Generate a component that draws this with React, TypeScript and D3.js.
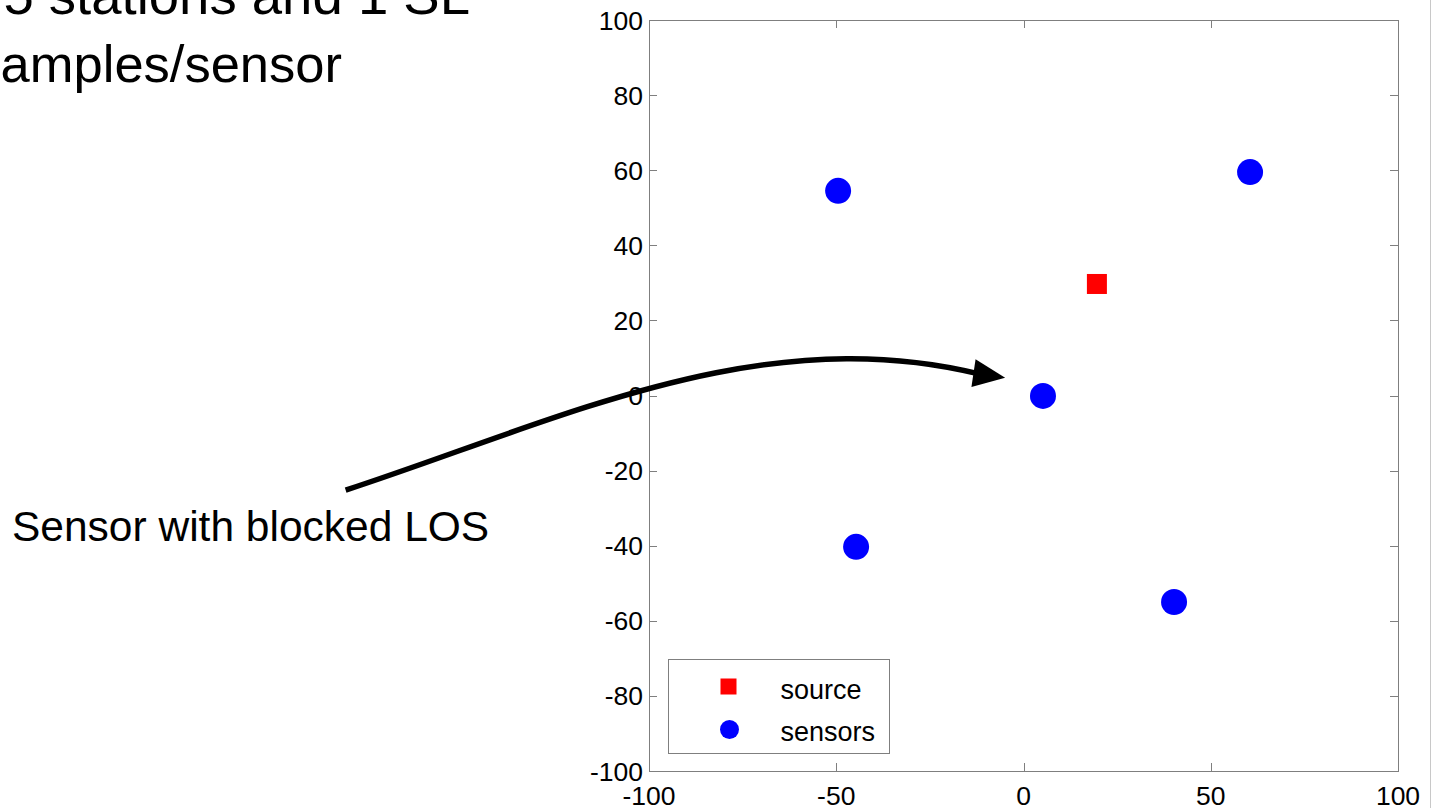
import React, { useEffect, useRef } from 'react';
import * as d3 from 'd3';

// sensor stations (x, y)
const sensorX = [-49.5, 60.5, 5.2, -44.7, 40.2];
const sensorY = [54.5, 59.5, -0.1, -40.3, -55];

// source location
const sourceX = [19.6];
const sourceY = [29.7];

const xTicks = [-100, -50, 0, 50, 100];
const yTicks = [-100, -80, -60, -40, -20, 0, 20, 40, 60, 80, 100];

const legendLabels = ['source', 'sensors'];

// annotation arrow, in data units (extends left of the axes)
const arrowPath: [number, number][] = [[-181, -25.2], [-123.8, -6.5], [-70.4, 20.1], [-11.6, 5.7]];
const arrowTip: [number, number] = [-4.9, 4.7];

const FONT = 'Liberation Sans, Arial, Helvetica, sans-serif';

const App: React.FC = () => {
    const chartRef = useRef<SVGSVGElement | null>(null);

    useEffect(() => {
        if (!chartRef.current) return;
        const width = 1432;
        const height = 808;
        const plot = { left: 649, right: 1398, top: 20, bottom: 771 };

        const svg = d3.select(chartRef.current)
            .attr('width', width)
            .attr('height', height);
        svg.selectAll('*').remove();

        const x = d3.scaleLinear().domain([-100, 100]).range([plot.left, plot.right]);
        const y = d3.scaleLinear().domain([-100, 100]).range([plot.bottom, plot.top]);

        const axisColor = '#7f7f7f';
        const tickLen = 8;

        // slide text, cut at the top-left
        svg.append('text')
            .attr('x', 470).attr('y', 14)
            .attr('text-anchor', 'end')
            .style('font-family', FONT).style('font-size', '54.5px')
            .text('5 stations and 1 SL');
        svg.append('text')
            .attr('x', 342).attr('y', 82)
            .attr('text-anchor', 'end')
            .style('font-family', FONT).style('font-size', '52.5px')
            .text('samples/sensor');

        // right edge separator
        svg.append('line')
            .attr('x1', 1430.5).attr('x2', 1430.5)
            .attr('y1', 0).attr('y2', height)
            .attr('stroke', '#c8c8c8').attr('stroke-width', 1);

        // box
        svg.append('rect')
            .attr('x', plot.left + 0.5).attr('y', plot.top + 0.5)
            .attr('width', plot.right - plot.left).attr('height', plot.bottom - plot.top)
            .attr('fill', 'white').attr('stroke', axisColor).attr('stroke-width', 1);

        // ticks on all four sides, pointing inward
        const g = svg.append('g').attr('stroke', axisColor).attr('stroke-width', 1);
        xTicks.forEach(t => {
            const px = Math.round(x(t)) + 0.5;
            g.append('line').attr('x1', px).attr('x2', px).attr('y1', plot.bottom).attr('y2', plot.bottom - tickLen);
            g.append('line').attr('x1', px).attr('x2', px).attr('y1', plot.top).attr('y2', plot.top + tickLen);
        });
        yTicks.forEach(t => {
            const py = Math.round(y(t)) + 0.5;
            g.append('line').attr('x1', plot.left).attr('x2', plot.left + tickLen).attr('y1', py).attr('y2', py);
            g.append('line').attr('x1', plot.right).attr('x2', plot.right - tickLen).attr('y1', py).attr('y2', py);
        });

        svg.selectAll('.x-label')
            .data(xTicks)
            .enter().append('text')
            .attr('class', 'x-label')
            .attr('x', d => x(d))
            .attr('y', 805)
            .attr('text-anchor', 'middle')
            .style('font-family', FONT).style('font-size', '26.5px')
            .text(d => d);

        svg.selectAll('.y-label')
            .data(yTicks)
            .enter().append('text')
            .attr('class', 'y-label')
            .attr('x', plot.left - 6)
            .attr('y', d => y(d) + 9.5)
            .attr('text-anchor', 'end')
            .style('font-family', FONT).style('font-size', '26.5px')
            .text(d => d);

        // sensors
        svg.selectAll('.sensor')
            .data(sensorX.map((v, i) => [v, sensorY[i]]))
            .enter().append('circle')
            .attr('class', 'sensor')
            .attr('cx', d => x(d[0]))
            .attr('cy', d => y(d[1]))
            .attr('r', 13)
            .attr('fill', '#0000ff');

        // source
        const sq = 20;
        svg.selectAll('.source')
            .data(sourceX.map((v, i) => [v, sourceY[i]]))
            .enter().append('rect')
            .attr('class', 'source')
            .attr('x', d => x(d[0]) - sq / 2)
            .attr('y', d => y(d[1]) - sq / 2)
            .attr('width', sq).attr('height', sq)
            .attr('fill', '#ff0000');

        // legend
        const legend = svg.append('g').attr('transform', 'translate(668.5, 659.5)');
        legend.append('rect')
            .attr('width', 221).attr('height', 94)
            .attr('fill', 'white').attr('stroke', axisColor).attr('stroke-width', 1);
        legend.append('rect')
            .attr('x', 60 - 8).attr('y', 27 - 8).attr('width', 16).attr('height', 16)
            .attr('fill', '#ff0000');
        legend.append('circle')
            .attr('cx', 61).attr('cy', 70).attr('r', 9.5)
            .attr('fill', '#0000ff');
        legend.selectAll('.leg-text')
            .data(legendLabels)
            .enter().append('text')
            .attr('class', 'leg-text')
            .attr('x', 112)
            .attr('y', (d, i) => 39 + i * 42)
            .style('font-family', FONT).style('font-size', '27px')
            .text(d => d);

        // annotation arrow
        const p = arrowPath.map(d => [x(d[0]), y(d[1])]);
        svg.append('path')
            .attr('d', `M${p[0][0]},${p[0][1]} C${p[1][0]},${p[1][1]} ${p[2][0]},${p[2][1]} ${p[3][0]},${p[3][1]}`)
            .attr('fill', 'none').attr('stroke', 'black').attr('stroke-width', 5.5);
        const tip = [x(arrowTip[0]), y(arrowTip[1])];
        const base = p[3];
        const ang = Math.atan2(tip[1] - base[1], tip[0] - base[0]);
        const len = 32;
        const hw = 14;
        const bx = tip[0] - len * Math.cos(ang);
        const by = tip[1] - len * Math.sin(ang);
        const nx = -Math.sin(ang) * hw;
        const ny = Math.cos(ang) * hw;
        svg.append('path')
            .attr('d', `M${tip[0]},${tip[1]} L${bx + nx},${by + ny} L${bx - nx},${by - ny} Z`)
            .attr('fill', 'black');

        svg.append('text')
            .attr('x', 12).attr('y', 541)
            .style('font-family', FONT).style('font-size', '42.5px')
            .text('Sensor with blocked LOS');
    }, []);

    return (
        <svg ref={chartRef} style={{ position: 'absolute', left: 0, top: 0, background: 'white' }}></svg>
    );
};

export default App;
